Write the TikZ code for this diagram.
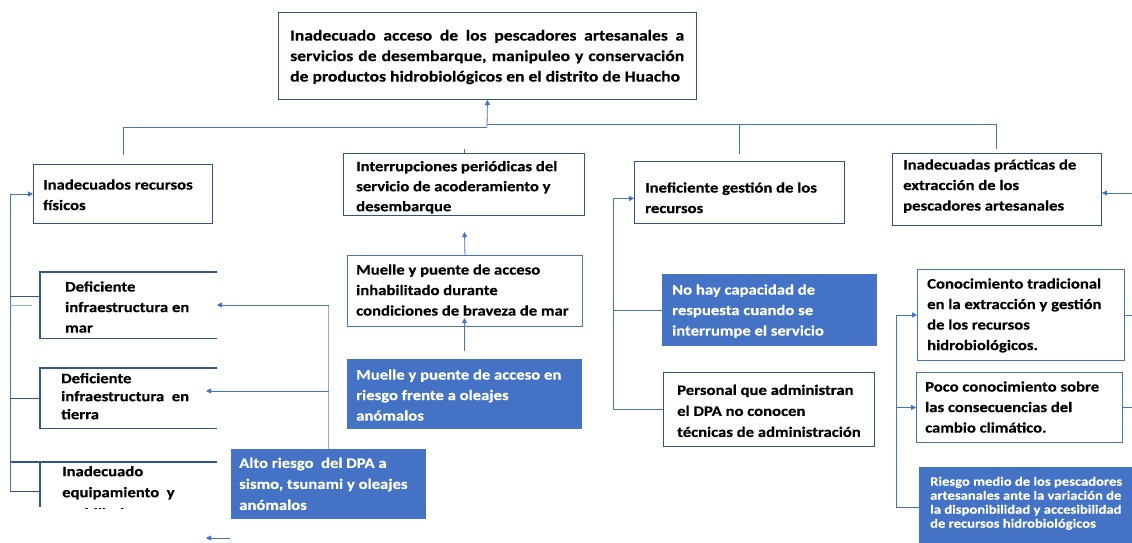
\documentclass[tikz,border=0pt]{standalone}
\usepackage{fontspec}
\setmainfont{Carlito}[FakeStretch=1.15, BoldFeatures={FakeBold=0.4}]
\usetikzlibrary{arrows.meta,calc}
\definecolor{bdark}{HTML}{2F528F}
\definecolor{bmid}{HTML}{4472C4}
\definecolor{blight}{HTML}{8FAADC}
\definecolor{bpart}{HTML}{2F5597}
\begin{document}
\begin{tikzpicture}[x=1pt,y=-1pt,
  bx/.style={draw=bdark, line width=0.9pt, fill=white, anchor=north west, inner sep=0pt},
  sz/.style 2 args={minimum width=#1, minimum height=#2},
  bluebox/.style={fill=bmid, draw=none, anchor=north west, inner sep=0pt},
  zone/.style={anchor=north west, inner sep=0pt},
  txt/.style={anchor=north west, inner sep=0pt, align=left, font=\bfseries\fontsize{14.5}{20.5}\selectfont},
  wtxt/.style={txt, text=white},
  conn/.style={draw=bmid, line width=0.8pt},
  arr/.style={-{Triangle[length=5pt,width=5pt]}},
  part/.style={draw=bpart, line width=1.3pt},
]
\fill[white] (0,0) rectangle (1132,542);
\useasboundingbox (0,0) rectangle (1132,542);

% ---- top box
\node[bx, sz={418pt}{87pt}] (top) at (278,12) {};
\node[txt, text width=394pt, align=justify, font=\bfseries\fontsize{15.3}{20.5}\selectfont] (toptxt) at (290,26) {\strut Inadecuado acceso de los pescadores artesanales a\linebreak servicios de desembarque, manipuleo y conservación\linebreak de productos hidrobiológicos en el distrito de Huacho};

% ---- bus
\coordinate (d1) at (123,155);
\coordinate (j1) at (123,127);
\coordinate (j2) at (487,127);
\coordinate (j3) at (487,124);
\coordinate (j4) at (996,124);
\coordinate (d4) at (996,149);
\coordinate (j5) at (739,124);
\coordinate (d3) at (739,154);
\draw[conn] (d1) -- (j1) -- (j2);
\draw[conn,arr] (j2) -- (top.south);
\draw[conn] (j3) -- (j4) -- (d4);
\draw[conn] (j5) -- (d3);

% ---- column 1
\node[bx, sz={179pt}{59pt}] (b1) at (33,164) {};
\node[txt] (b1t) at (43,175) {\strut Inadecuados recursos\\físicos};

\node[zone, sz={177pt}{66pt}] (dm) at (40,272) {};
\draw[part] (dm.north east) -- (dm.north west) -- (dm.south west) -- (dm.south east);
\node[txt] (dmt) at (65,277) {\strut Deficiente\\infraestructura en\\mar};

\node[zone, sz={177pt}{60pt}] (dt) at (40,368) {};
\draw[part] (dt.north east) -- (dt.north west) -- (dt.south west) -- (dt.south east);
\node[txt, font=\bfseries\fontsize{14.5}{18}\selectfont] (dtt) at (61,370.4) {\strut Deficiente\\infraestructura\ \ en\\tierra};

\node[zone, sz={177pt}{45pt}] (de) at (40,462) {};
\coordinate (deL) at (10,462);
\draw[part] (de.north east) -- (deL);
\draw[part] (de.north west) -- (de.south west);
\begin{scope}
\clip (0,0) rectangle (230,508);
\node[txt, font=\bfseries\fontsize{14.5}{21}\selectfont] (det) at (62,461.3) {\strut Inadecuado\\equipamiento\ \ y\\mobiliario};
\end{scope}

\coordinate (L0) at (10,491);
\coordinate (L1) at (10,296);
\coordinate (L2) at (10,305);
\coordinate (L3) at (10,398);
\draw[conn,arr] (L0) |- (b1.west);
\draw[part, line width=1pt] (L1) -- (L1 -| de.west);
\draw[conn, draw=blight] (L2) -- ++(22,0);
\draw[part, line width=1pt] (L3) -- (L3 -| de.west);
\draw[part, line width=1pt] (L0) -- (L0 -| de.west);

% ---- Alto riesgo
\node[bluebox, sz={195pt}{70pt}] (al) at (231,449) {};
\node[wtxt, font=\bfseries\fontsize{14.5}{21}\selectfont] (alt) at (239,453) {\strut Alto riesgo\ \ del DPA a\\sismo, tsunami y oleajes\\anómalos};
\coordinate (a1) at (217,305);
\coordinate (a2) at (206,391);
\draw[conn, draw=blight] (al.north) -- (al.north |- a1);
\draw[conn,arr] (al.north |- a1) -- (a1);
\draw[conn,arr] (al.north |- a2) -- (a2);
\coordinate (bs) at (230,538);
\coordinate (be) at (206,538);
\draw[conn,arr] (bs) -- (be);

% ---- column 2
\node[bx, sz={241pt}{62pt}] (ip) at (343,153) {};
\node[txt, font=\bfseries\fontsize{14.5}{20}\selectfont] (ipt) at (356,157) {\strut Interrupciones periódicas del\\servicio de acoderamiento y\\desembarque};
\draw[conn] (ip.north) -- ++(0,-4);

\node[bx, draw=bmid, sz={235pt}{71pt}] (mi) at (347,255) {};
\node[txt] (mit) at (356,260) {\strut Muelle y puente de acceso\\inhabilitado durante\\condiciones de braveza de mar};
\coordinate (m1) at (464.5,232);
\draw[conn,arr] (mi.north) -- (m1);

\node[bluebox, sz={235pt}{70pt}] (mr) at (347,359) {};
\node[wtxt] (mrt) at (356,365) {\strut Muelle y puente de acceso en\\riesgo frente a oleajes\\anómalos};
\coordinate (m2s) at (464.5,351);
\coordinate (m2e) at (464.5,318);
\draw[conn,arr] (m2s) -- (m2e);

% ---- column 3
\node[bx, sz={210pt}{62pt}] (ig) at (634,161) {};
\node[txt] (igt) at (645,178) {\strut Ineficiente gestión de los\\recursos};

\node[bluebox, sz={215pt}{72pt}] (nh) at (662,274) {};
\node[wtxt] (nht) at (672,280) {\strut No hay capacidad de\\respuesta cuando se\\interrumpe el servicio};

\node[bx, sz={211pt}{74pt}] (pe) at (663,372) {};
\node[txt, font=\bfseries\fontsize{14.5}{21}\selectfont] (pet) at (677,380) {\strut Personal que administran\\el DPA no conocen\\técnicas de administración};

\draw[conn,arr] (pe.west) -| ($(ig.west)+(-21,6)$) -- ($(ig.west)+(0,6)$);
\draw[conn] (nh.west) -- ++(-49,0);

% ---- column 4
\node[bx, sz={209pt}{72pt}] (pr) at (892,153) {};
\node[txt] (prt) at (903,155) {\strut Inadecuadas prácticas de\\extracción de los\\pescadores artesanales};

\node[bx, draw=bmid, sz={207pt}{91pt}] (co) at (917,269) {};
\node[txt] (cot) at (927,274) {\strut Conocimiento tradicional\\en la extracción y gestión\\de los recursos\\hidrobiológicos.};

\node[bx, draw=bmid, sz={206pt}{70pt}] (po) at (916,372) {};
\node[txt] (pot) at (925,377) {\strut Poco conocimiento sobre\\las consecuencias del\\cambio climático.};

\node[bluebox, sz={215pt}{80pt}] (rm) at (919,467) {};
\node[wtxt, font=\bfseries\fontsize{12.7}{14}\selectfont] (rmt) at (930,475.7) {\strut Riesgo medio de los pescadores\\artesanales ante la variación de\\la disponibilidad y accesibilidad\\de recursos hidrobiológicos};

\draw[conn,arr] (rm.west) -| ($(co.west)+(-21,0)$) -- (co.west);
\draw[conn,arr] ($(po.west)+(-20,0)$) -- (po.west);
\coordinate (R) at (1132,0);
\coordinate (pin) at (1132,193);
\draw[conn] (co.east) -- (co.east -| R);
\draw[conn] (po.east) -- (po.east -| R);
\draw[conn,arr] (pin) -- (pin -| pr.east);
\end{tikzpicture}
\end{document}
